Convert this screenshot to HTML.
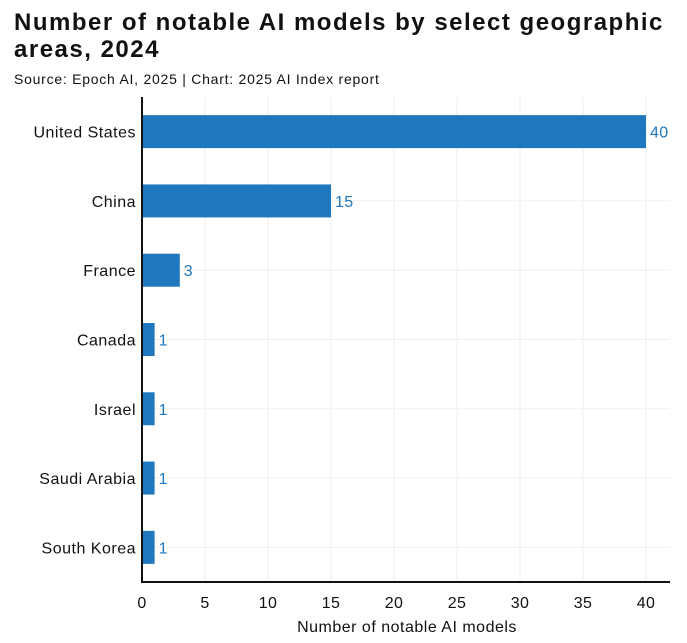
<!DOCTYPE html>
<html><head><meta charset="utf-8"><style>
body{margin:0;background:#fff;font-family:"Liberation Sans",sans-serif;}
#t{position:absolute;left:14px;top:9px;font-size:24px;letter-spacing:1.5px;font-weight:bold;line-height:27px;color:#111;width:670px}
#s{position:absolute;left:14px;top:71px;font-size:14px;letter-spacing:0.75px;color:#111}
</style></head><body>
<div id="t">Number of notable AI models by select geographic areas, 2024</div>
<div id="s">Source: Epoch AI, 2025 | Chart: 2025 AI Index report</div>
<svg id="c" width="687" height="643" style="position:absolute;left:0;top:0"></svg>
<script>
const categories=["United States","China","France","Canada","Israel","Saudi Arabia","South Korea"];
const values=[40,15,3,1,1,1,1];
const ticks=[0,5,10,15,20,25,30,35,40];
const NS="http://www.w3.org/2000/svg",svgEl=document.getElementById('c');
const x0=142,x1=646,xmax=40,yTop=97,yBot=582;
const band=(yBot-yTop)/categories.length;
const X=v=>x0+(x1-x0)*v/xmax;
const Y=i=>yTop+band*(i+0.5);
function mk(t,a,txt){const e=document.createElementNS(NS,t);for(const k in a)e.setAttribute(k,a[k]);if(txt!==undefined)e.textContent=txt;svgEl.appendChild(e);return e;}
ticks.forEach(t=>{
 const g=mk('line',{x1:X(t),x2:X(t),y1:yTop,y2:yBot,stroke:'#eee','stroke-width':1});
 
 
 const l=mk('text',{x:X(t),y:608,'text-anchor':'middle','font-size':16,'letter-spacing':0.3,fill:'#111'},t);
 
 
});
categories.forEach((c,i)=>{
 const g=mk('line',{x1:x0,x2:x1+24,y1:Y(i),y2:Y(i),stroke:'#f0f0f0','stroke-width':1});
 
 
});
categories.forEach((c,i)=>{
 const b=mk('rect',{x:x0,y:Y(i)-16.5,width:X(values[i])-x0,height:33,fill:'#1f77bd'});
 
 
 const v=mk('text',{x:X(values[i])+4,y:Y(i)+6,'font-size':16,'letter-spacing':0.3,fill:'#1f77bd'},values[i]);
 
 
 const l=mk('text',{x:136,y:Y(i)+6,'text-anchor':'end','font-size':16,'letter-spacing':0.5,fill:'#111'},c);
 
 
});
const ax=mk('path',{d:`M${x0} ${yTop}V${yBot}H${x1+24}`,stroke:'#111','stroke-width':2,fill:'none'});


const xt=mk('text',{x:407,y:632,'text-anchor':'middle','font-size':16,'letter-spacing':0.5,fill:'#111'},'Number of notable AI models');


</script>
</body></html>
